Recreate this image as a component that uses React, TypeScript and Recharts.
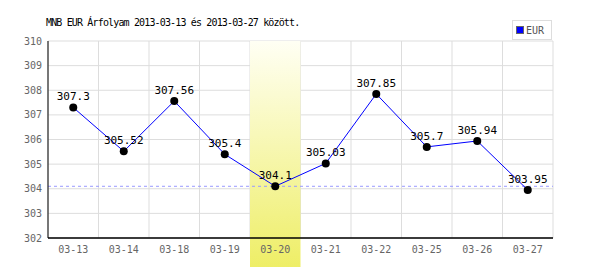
import {
  LineChart,
  Line,
  XAxis,
  YAxis,
  CartesianGrid,
  ReferenceLine,
  ReferenceArea,
  LabelList,
} from "recharts";

const days = ["03-13", "03-14", "03-18", "03-19", "03-20", "03-21", "03-22", "03-25", "03-26", "03-27"];
const eurRates = [307.3, 305.52, 307.56, 305.4, 304.1, 305.03, 307.85, 305.7, 305.94, 303.95];
const yTicks = [302, 303, 304, 305, 306, 307, 308, 309, 310];
const highlightDay = "03-20";
const highlightRate = 304.1;

const data = days.map((day, i) => ({ day, eur: eurRates[i] }));

const mono = "'DejaVu Sans Mono', monospace";

if (typeof document !== "undefined") {
  document.body.style.margin = "0";
}

// vertical grid lines sit on the category boundaries, not the centres
const boundaryLines = ({ offset }: any) => {
  const step = offset.width / days.length;
  return Array.from({ length: days.length + 1 }, (_, i) => offset.left + i * step);
};

export default function App() {
  return (
    <div style={{ position: "relative", width: 600, height: 270, background: "#fff" }}>
      <div
        style={{
          position: "absolute",
          left: 46,
          top: 17,
          fontFamily: mono,
          fontSize: 10,
          letterSpacing: -0.85,
          color: "#000",
          whiteSpace: "nowrap",
        }}
      >
        MNB EUR Árfolyam 2013-03-13 és 2013-03-27 között.
      </div>
      <div
        style={{
          position: "absolute",
          left: 512,
          top: 20,
          width: 40,
          height: 20,
          border: "1px solid #ddd",
          boxSizing: "border-box",
          display: "flex",
          alignItems: "center",
          fontFamily: mono,
          fontSize: 10,
          color: "#555",
          background: "#fff",
          zIndex: 1,
        }}
      >
        <span
          style={{
            display: "inline-block",
            width: 6,
            height: 6,
            background: "#0000ff",
            border: "1px solid #666",
            marginLeft: 3,
            marginRight: 2,
          }}
        />
        EUR
      </div>
      <LineChart
        width={600}
        height={270}
        data={data}
        margin={{ top: 41, right: 47, bottom: 2, left: 0 }}
      >
        <defs>
          <linearGradient id="dayBand" x1="0" y1="0" x2="0" y2="1">
            <stop offset="0%" stopColor="#fffff4" />
            <stop offset="100%" stopColor="#eeee66" />
          </linearGradient>
        </defs>
        <CartesianGrid
          stroke="#dddddd"
          strokeWidth={1}
          verticalCoordinatesGenerator={boundaryLines}
        />
        <ReferenceLine
          y={highlightRate}
          stroke="#9999ff"
          strokeDasharray="3 3"
          ifOverflow="visible"
        />
        <ReferenceArea
          x1={highlightDay}
          x2={highlightDay}
          y1={300.82}
          y2={310}
          fill="url(#dayBand)"
          fillOpacity={1}
          stroke="none"
          ifOverflow="visible"
        />
        {/* axis baseline stays visible over the highlighted day */}
        <ReferenceLine y={302} stroke="#000" ifOverflow="visible" />
        <XAxis
          dataKey="day"
          scale="band"
          tick={{ fontSize: 10, fill: "#666", fontFamily: mono }}
          axisLine={{ stroke: "#000" }}
          tickLine={false}
          interval={0}
        />
        <YAxis
          domain={[302, 310]}
          ticks={yTicks}
          width={48}
          tick={{ fontSize: 10, fill: "#666", fontFamily: mono }}
          axisLine={{ stroke: "#000" }}
          tickLine={false}
          tickSize={4}
          tickMargin={2}
        />
        <Line
          type="linear"
          dataKey="eur"
          stroke="#0000ff"
          strokeWidth={1}
          dot={{ r: 4, fill: "#000", stroke: "#000", strokeWidth: 0 }}
          isAnimationActive={false}
        >
          <LabelList
            dataKey="eur"
            position="top"
            offset={7}
            style={{ fontSize: 11, fill: "#000", fontFamily: mono }}
          />
        </Line>
      </LineChart>
    </div>
  );
}
